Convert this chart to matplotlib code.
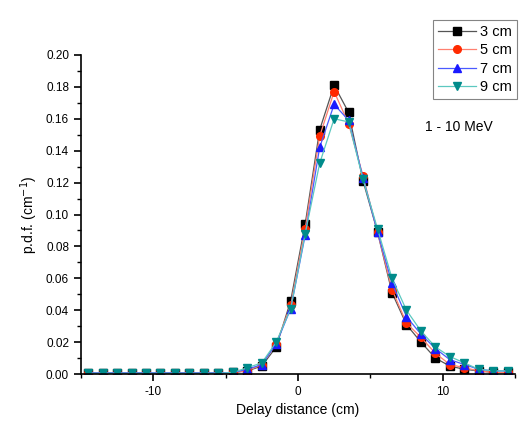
import numpy as np
import matplotlib.pyplot as plt
from matplotlib.ticker import MultipleLocator

# Delay distance bin centres (cm)
delay = [-14.5, -13.5, -12.5, -11.5, -10.5, -9.5, -8.5, -7.5, -6.5, -5.5,
         -4.5, -3.5, -2.5, -1.5, -0.5, 0.5, 1.5, 2.5, 3.5, 4.5,
         5.5, 6.5, 7.5, 8.5, 9.5, 10.5, 11.5, 12.5, 13.5, 14.5]

# p.d.f. values, one list per depth
pdf_3cm = [0.0005, 0.0005, 0.0005, 0.0005, 0.0005, 0.0005, 0.0005, 0.0005, 0.0005, 0.0005,
           0.001, 0.002, 0.005, 0.017, 0.046, 0.094, 0.153, 0.181, 0.164, 0.121,
           0.089, 0.051, 0.031, 0.020, 0.010, 0.005, 0.003, 0.002, 0.001, 0.001]
pdf_5cm = [0.0005, 0.0005, 0.0005, 0.0005, 0.0005, 0.0005, 0.0005, 0.0005, 0.0005, 0.0005,
           0.001, 0.002, 0.006, 0.019, 0.043, 0.091, 0.149, 0.177, 0.157, 0.124,
           0.089, 0.053, 0.032, 0.023, 0.013, 0.006, 0.004, 0.002, 0.001, 0.001]
pdf_7cm = [0.0008, 0.0008, 0.0008, 0.0008, 0.0008, 0.0008, 0.0008, 0.0008, 0.0008, 0.0008,
           0.001, 0.003, 0.006, 0.019, 0.041, 0.087, 0.142, 0.169, 0.159, 0.123,
           0.089, 0.057, 0.036, 0.025, 0.016, 0.009, 0.006, 0.003, 0.002, 0.002]
pdf_9cm = [0.0005, 0.0005, 0.0005, 0.0005, 0.0005, 0.0005, 0.0005, 0.0005, 0.0005, 0.0005,
           0.001, 0.004, 0.007, 0.020, 0.041, 0.088, 0.132, 0.160, 0.158, 0.122,
           0.091, 0.060, 0.040, 0.027, 0.017, 0.011, 0.007, 0.003, 0.002, 0.002]

labels = ['3 cm', '5 cm', '7 cm', '9 cm']

plt.rcParams['font.family'] = ['Liberation Sans', 'DejaVu Sans']
plt.rcParams['axes.unicode_minus'] = False

fig = plt.figure(figsize=(5.25, 4.29), dpi=100)
ax = fig.add_axes([0.154, 0.128, 0.827, 0.744])

styles = [
    (pdf_3cm, 's', 'black', '#555555'),
    (pdf_5cm, 'o', '#ff2a00', '#ff8070'),
    (pdf_7cm, '^', '#1a1aff', '#4a5aff'),
    (pdf_9cm, 'v', '#008b8b', '#5cc8c0'),
]
for (vals, mk, mcol, lcol), lab in zip(styles, labels):
    ax.plot(delay, vals, marker=mk, color=lcol, markerfacecolor=mcol,
            markeredgecolor=mcol, markersize=5.5, linewidth=0.9, label=lab)

ax.set_xlim(-15, 15)
ax.set_ylim(0, 0.2)
ax.xaxis.set_major_locator(MultipleLocator(10))
ax.xaxis.set_minor_locator(MultipleLocator(5))
ax.yaxis.set_major_locator(MultipleLocator(0.02))
ax.yaxis.set_minor_locator(MultipleLocator(0.01))
ax.yaxis.set_major_formatter(plt.FormatStrFormatter('%.2f'))

for side in ['top', 'right']:
    ax.spines[side].set_visible(False)
for side in ['left', 'bottom']:
    ax.spines[side].set_linewidth(1.2)
ax.tick_params(which='major', direction='out', length=5, width=1.2, labelsize=8.5)
ax.tick_params(which='minor', direction='out', length=3, width=1.0)

ax.set_xlabel('Delay distance (cm)', fontsize=10)
ax.set_ylabel('p.d.f. (cm$^{-1}$)', fontsize=10)

ax.text(11.1, 0.155, '1 - 10 MeV', fontsize=10, ha='center', va='center')

leg = fig.legend(loc='upper right', bbox_to_anchor=(517 / 525, 1 - 20 / 429),
                 fontsize=10.5, frameon=True, fancybox=False, edgecolor='#666666',
                 handlelength=2.6, handletextpad=0.3, borderpad=0.35,
                 labelspacing=0.3, borderaxespad=0)
leg.get_frame().set_linewidth(0.8)

fig.savefig('out.png', dpi=100)
